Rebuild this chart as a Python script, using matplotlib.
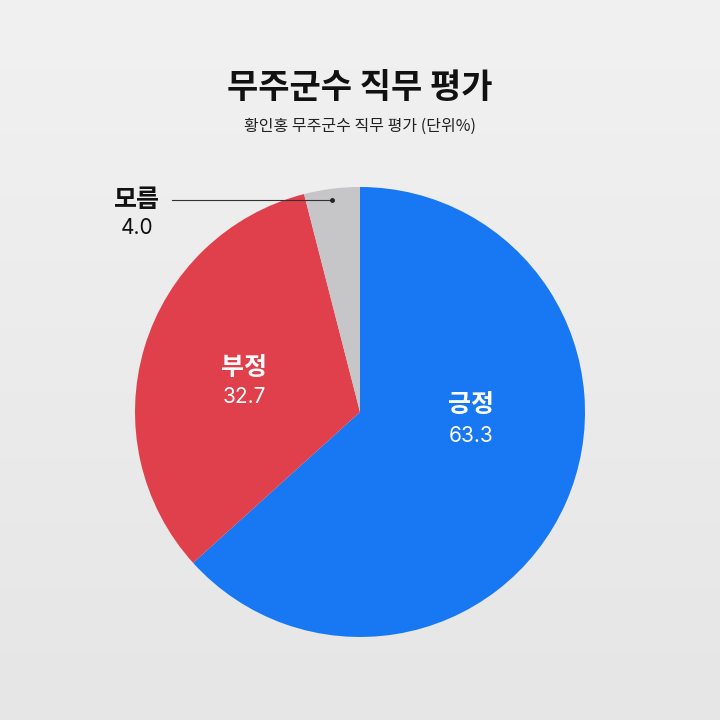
import numpy as np
import matplotlib.pyplot as plt

plt.rcParams['font.family'] = ['Noto Sans CJK KR', 'DejaVu Sans']
num_font = ['Inter', 'Noto Sans CJK KR']

labels = ['긍정', '부정', '모름']
values = [63.3, 32.7, 4.0]
colors = ['#1877f2', '#e0404b', '#c6c6c8']

fig = plt.figure(figsize=(7.2, 7.2), dpi=100)

# background gradient
bg = fig.add_axes([0, 0, 1, 1])
grad = np.linspace(0, 1, 256).reshape(-1, 1)
bg.imshow(grad, cmap=plt.matplotlib.colors.LinearSegmentedColormap.from_list(
    'bg', ['#f1f1f1', '#e6e6e6']), aspect='auto', extent=[0, 1, 0, 1])
bg.axis('off')

fig.text(0.5, 0.879, '무주군수 직무 평가', ha='center', va='center',
         fontsize=24.5, fontweight='bold', color='#111111')
fig.text(0.5, 0.824, '황인홍 무주군수 직무 평가 (단위%)', ha='center', va='center',
         fontsize=11.5, color='#222222')

ax = fig.add_axes([0.1875, 0.1153, 0.625, 0.625])
ax.pie(values, colors=colors, startangle=90, counterclock=False,
       wedgeprops=dict(linewidth=0))
ax.set_xlim(-1, 1)
ax.set_ylim(-1, 1)
ax.axis('off')

# inside labels
ax.text(0.493, 0.03, labels[0], ha='center', va='center', fontsize=18,
        fontweight='bold', color='white')
ax.text(0.493, -0.107, f'{values[0]:.1f}', ha='center', va='center',
        fontsize=15, color='white', family=num_font)
ax.text(-0.516, 0.196, labels[1], ha='center', va='center', fontsize=18,
        fontweight='bold', color='white')
ax.text(-0.516, 0.067, f'{values[1]:.1f}', ha='center', va='center',
        fontsize=15, color='white', family=num_font)

# outside label for small slice
ax.text(-0.991, 0.942, labels[2], ha='center', va='center', fontsize=18,
        fontweight='bold', color='#111111', clip_on=False)
ax.text(-0.991, 0.818, f'{values[2]:.1f}', ha='center', va='center',
        fontsize=15, color='#111111', clip_on=False, family=num_font)
ax.plot([-0.836, -0.124], [0.942, 0.942], color='#333333', lw=0.8, clip_on=False)
ax.plot([-0.124], [0.942], 'o', color='#222222', ms=2.5, clip_on=False)

fig.savefig('out.png', dpi=100)
